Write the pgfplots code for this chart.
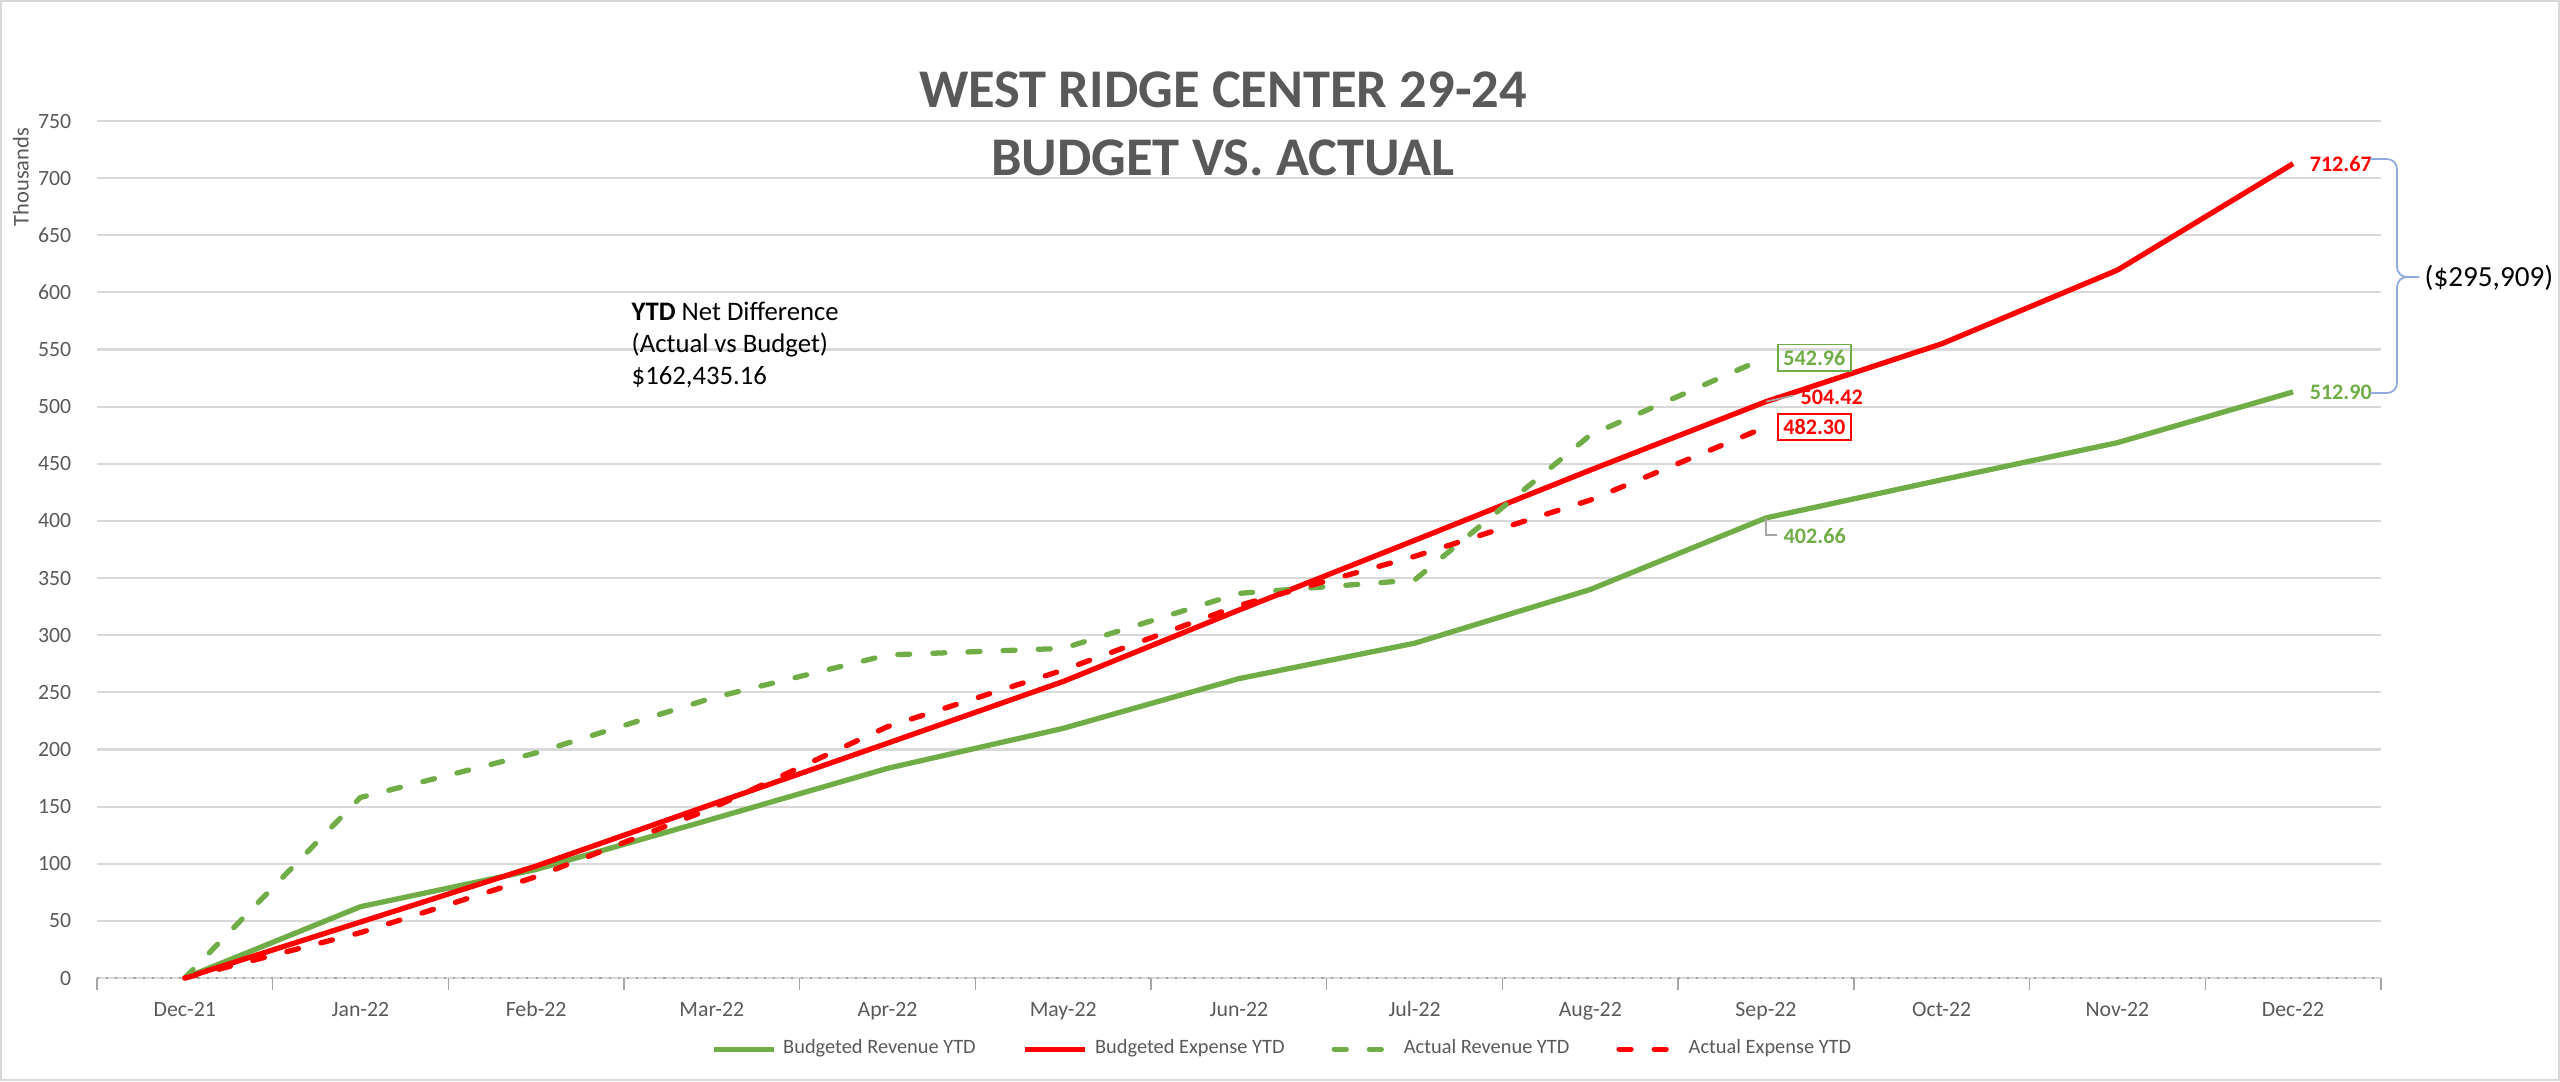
\documentclass[border=0pt]{standalone}
\usepackage{pgfplots}
\pgfplotsset{compat=1.18}
\usepackage{fontspec}
\setmainfont{Carlito}

\definecolor{xlgreen}{HTML}{70AD47}
\definecolor{xlred}{HTML}{FF0000}
\definecolor{txtgray}{HTML}{595959}
\definecolor{gridgray}{HTML}{D9D9D9}
\definecolor{leadgray}{HTML}{A6A6A6}
\definecolor{bracecol}{HTML}{8FAADC}

\begin{document}
\begin{tikzpicture}
\useasboundingbox (0,0) rectangle (256mm,108.1mm);
\draw[gridgray, line width=0.6pt] (0.1mm,0.1mm) rectangle (255.9mm,108mm);

\begin{axis}[
  at={(9.69mm,10.3mm)}, anchor=south west,
  scale only axis, width=228.4mm, height=85.7mm,
  xmin=-0.5, xmax=12.5, ymin=0, ymax=750,
  clip=false,
  xtick={0,...,12},
  xticklabels={Dec-21,Jan-22,Feb-22,Mar-22,Apr-22,May-22,Jun-22,Jul-22,Aug-22,Sep-22,Oct-22,Nov-22,Dec-22},
  ytick={0,50,...,750},
  minor xtick={-0.5,0.5,...,12.5},
  tick pos=left, xtick align=outside,
  major tick length=0pt, minor tick length=1.2mm,
  minor x tick style={leadgray, line width=0.4pt},
  ymajorgrids, grid style={gridgray, line width=0.6pt},
  axis line style={draw=none},
  /pgf/number format/assume math mode=true,
  ticklabel style={font=\fontsize{6.2}{7.4}\selectfont, text=txtgray},
  yticklabel style={anchor=east, inner sep=0pt, xshift=-2.5mm},
  xticklabel style={anchor=base, inner sep=0pt, yshift=-3.8mm},
  legend columns=4,
  legend style={draw=none, fill=none, at={(0.52,-0.083)}, anchor=center,
    font=\fontsize{5.8}{7}\selectfont, text=txtgray,
    /tikz/every even column/.append style={column sep=4mm}},
  legend image code/.code={\draw[#1] (0mm,0mm) -- (6mm,0mm);},
  every axis plot/.append style={line width=1.5pt, line join=round},
]
\draw[leadgray, dotted, line width=0.6pt] (axis cs:-0.5,0) -- (axis cs:12.5,0);

% Budgeted Revenue YTD
\addplot[xlgreen] coordinates {(0,0)(1,62.4)(2,95)(3,139)(4,183.5)(5,218.5)(6,262)(7,293)(8,340)(9,402.66)(10,436)(11,468.5)(12,512.90)};
% Budgeted Expense YTD
\addplot[xlred] coordinates {(0,0)(1,49)(2,98)(3,152)(4,205.5)(5,259.5)(6,322)(7,383)(8,444.5)(9,504.42)(10,555)(11,619.5)(12,712.67)};
% Actual Revenue YTD
\addplot[xlgreen, line cap=round, dash pattern=on 3.4pt off 6.6pt] coordinates {(0,0)(1,158)(2,197)(3,245)(4,282.7)(5,288.5)(6,336.6)(7,348.3)(8,475.2)(9,542.96)};
% Actual Expense YTD
\addplot[xlred, line cap=round, dash pattern=on 3.4pt off 6.6pt] coordinates {(0,0)(1,39.7)(2,88.7)(3,148.5)(4,220)(5,269.5)(6,326)(7,369)(8,418.3)(9,482.30)};
\legend{Budgeted Revenue YTD, Budgeted Expense YTD, Actual Revenue YTD, Actual Expense YTD}

% data labels
\tikzset{dlab/.style={inner sep=0pt, anchor=west, font=\fontsize{6.3}{7.4}\selectfont\bfseries}}
\node[dlab, text=xlred, xshift=1.6mm] at (axis cs:12,712.67) {712.67};
\node[dlab, text=xlgreen, xshift=1.6mm] at (axis cs:12,512.90) {512.90};
\node[dlab, text=xlgreen, draw=xlgreen, line width=0.5pt, inner sep=0.55mm, xshift=1.1mm] at (axis cs:9,542.96) {542.96};
\node[dlab, text=xlred, draw=xlred, line width=0.5pt, inner sep=0.55mm, xshift=1.1mm] at (axis cs:9,482.30) {482.30};
\draw[leadgray, line width=0.5pt] (axis cs:9,504.42) -- ++(2.7mm,0.6mm);
\node[dlab, text=xlred] at ([xshift=3.4mm, yshift=0.4mm]axis cs:9,504.42) {504.42};
\draw[leadgray, line width=0.5pt] (axis cs:9,402.66) -- ([yshift=-1.7mm]axis cs:9,402.66) -- ([xshift=1.1mm, yshift=-1.7mm]axis cs:9,402.66);
\node[dlab, text=xlgreen] at ([xshift=1.7mm, yshift=-1.8mm]axis cs:9,402.66) {402.66};
\end{axis}

% title
\node[align=center, text=txtgray, font=\fontsize{15.5}{19.3}\selectfont\bfseries] at (122.3mm,95.7mm) {WEST RIDGE CENTER 29-24\\BUDGET VS. ACTUAL};
% axis unit label
\node[rotate=90, text=txtgray, font=\fontsize{6.4}{7.6}\selectfont, inner sep=0pt] at (2.1mm,90.4mm) {Thousands};
% net difference text
\node[align=left, anchor=north west, inner sep=0pt, font=\fontsize{7.6}{9.1}\selectfont] at (63.1mm,78.0mm) {\textbf{YTD} Net Difference\\(Actual vs Budget)\\\$162,435.16};
% brace
\draw[bracecol, line width=0.5pt, rounded corners=1mm] (237.0mm,92.2mm) -- (239.7mm,92.2mm) -- (239.7mm,80.4mm) -- (241.9mm,80.4mm);
\draw[bracecol, line width=0.5pt, rounded corners=1mm] (237.0mm,68.8mm) -- (239.7mm,68.8mm) -- (239.7mm,80.4mm) -- (241.9mm,80.4mm);
\node[anchor=west, inner sep=0pt, font=\fontsize{8.3}{9.6}\selectfont] at (242.4mm,80.3mm) {(\$295,909)};
\end{tikzpicture}
\end{document}
